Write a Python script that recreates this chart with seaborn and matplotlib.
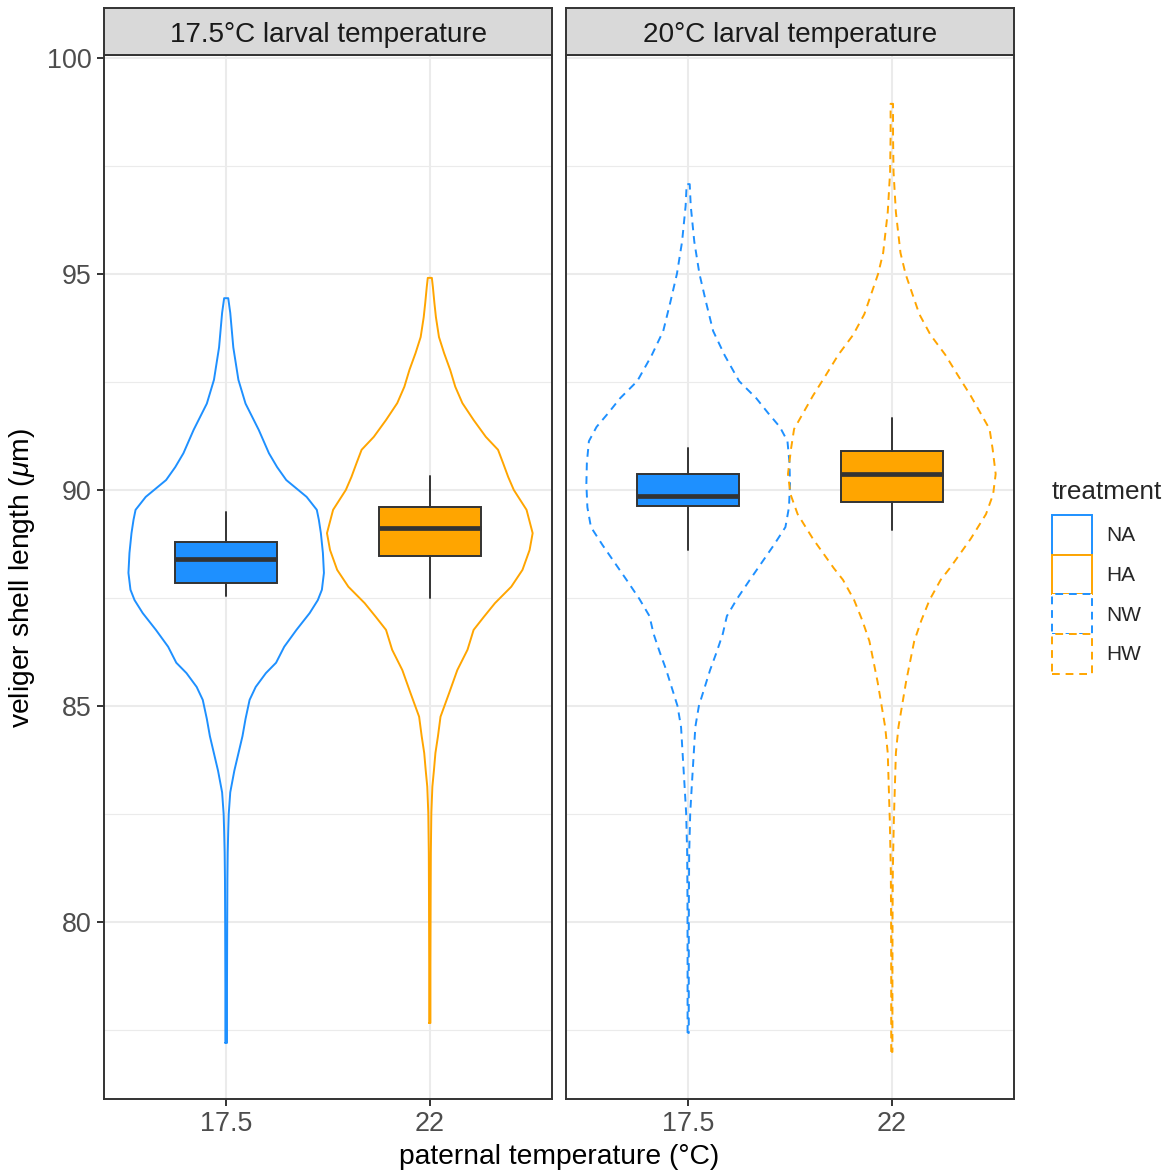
import numpy as np
import pandas as pd
import matplotlib
matplotlib.use("Agg")
import matplotlib.pyplot as plt
from matplotlib.patches import Patch
import seaborn as sns

# ---------------- data ----------------
facet_titles = ["17.5°C larval temperature", "20°C larval temperature"]
paternal_temps = ["17.5", "22"]
treatments = ["NA", "HA", "NW", "HW"]
treat_facet = [0, 0, 1, 1]          # which larval-temperature panel
treat_paternal = [0, 1, 0, 1]       # which paternal temperature

# violin outlines: shell length (µm) and relative density (% of widest)
NA_len = [77.2, 78.5, 80.0, 81.0, 81.6, 82.1, 82.5, 83.0, 83.5, 83.9, 84.3, 84.7, 85.14,
          85.44, 85.76, 86.0, 86.37, 86.76, 87.15, 87.45, 87.69, 88.08, 88.54, 89.0, 89.31,
          89.54, 89.84, 90.23, 90.53, 90.85, 91.39, 92.0, 92.55, 93.3, 94.1, 94.44]
NA_dens = [0.8, 0.8, 1.0, 1.2, 1.5, 2, 2.5, 4, 8, 12, 16, 19, 23,
           29, 39, 49, 57, 69, 82, 90, 94, 96, 95, 93, 91,
           89, 79, 59, 50, 42, 32, 19, 12, 7, 4, 2]

HA_len = [77.66, 79.0, 80.5, 81.6, 82.52, 83.13, 83.5, 83.91, 84.3, 84.75, 85.3, 85.83,
          86.3, 86.76, 87.06, 87.38, 87.76, 88.15, 88.61, 89.0, 89.54, 90.0, 90.3, 90.62,
          90.93, 91.23, 91.62, 92.01, 92.39, 92.78, 93.17, 93.54, 94.0, 94.33, 94.7, 94.91]
HA_dens = [0.6, 0.6, 0.8, 1.0, 1.5, 2.5, 4, 5.5, 8, 10.5, 19, 27,
           37, 43, 53, 64, 80, 91, 98, 101, 95, 82.5, 77, 72,
           67, 55, 43, 32, 25, 20, 14, 9, 6, 4.5, 3, 2]

NW_len = [77.43, 79.0, 80.5, 81.6, 82.52, 83.13, 83.91, 84.51, 85.0, 85.83, 86.25, 86.67,
          87.08, 87.48, 87.9, 88.31, 88.72, 89.14, 89.6, 90.14, 90.63, 91.13, 91.46, 91.78,
          92.12, 92.52, 93.11, 93.68, 94.35, 95.01, 95.75, 96.58, 97.08]
NW_dens = [0.6, 0.6, 0.7, 1.0, 2.0, 3.5, 5.5, 7, 10.5, 21.5, 28, 34,
           38, 48, 60, 72, 84, 95.5, 99, 100, 99.5, 97.5, 90, 78.5,
           67, 50, 36, 24.5, 17.5, 11, 6, 2.5, 1.5]

HW_len = [76.99, 78.5, 80.0, 81.2, 82.36, 83.13, 83.91, 84.51, 85.56, 86.5, 86.98, 87.45,
          87.92, 88.19, 88.87, 89.44, 89.9, 90.37, 90.95, 91.41, 92.18, 92.65, 93.13, 93.59,
          94.07, 95.0, 95.49, 96.43, 97.36, 98.2, 98.94]
HW_dens = [0.6, 0.6, 0.7, 1.0, 2.0, 3, 4, 6.5, 14, 22, 29, 37,
           48, 57, 77.5, 92.5, 99.5, 102, 99, 96, 77.5, 65, 52.5, 38,
           27, 13.5, 8.5, 4, 1.7, 1.2, 1.2]

violin_len = [NA_len, HA_len, NW_len, HW_len]
violin_dens = [NA_dens, HA_dens, NW_dens, HW_dens]

# boxplot statistics (µm)
box_low = [87.55, 87.49, 88.60, 89.07]
box_q1 = [87.85, 88.48, 89.64, 89.72]
box_med = [88.40, 89.13, 89.86, 90.38]
box_q3 = [88.80, 89.60, 90.36, 90.90]
box_high = [89.49, 90.33, 90.97, 91.67]

# ---------------- style ----------------
BLUE = "#1E90FF"
ORANGE = "#FFA500"
treat_color = [BLUE, ORANGE, BLUE, ORANGE]
DASH = (0, (4, 3))
treat_ls = ["-", "-", DASH, DASH]

sns.set_theme(style="white")
plt.rcParams["font.family"] = ["Liberation Sans", "DejaVu Sans"]
plt.rcParams["mathtext.fontset"] = "custom"
plt.rcParams["mathtext.rm"] = "Liberation Sans"
plt.rcParams["mathtext.it"] = "Liberation Sans:italic"

W, H = 1172, 1174
fig = plt.figure(figsize=(W / 100, H / 100), dpi=100)
fig.patch.set_facecolor("white")

panel_x = [104, 566]
panel_w = 448
panel_top, panel_bot = 55, 1099
strip_top = 8

DARK = "#333333"
GRID = "#EBEBEB"
MAXHW = 0.5 / 100.0   # half width (x units) per density percent

axes = []
for f in range(2):
    ax = fig.add_axes([panel_x[f] / W, 1 - panel_bot / H, panel_w / W, (panel_bot - panel_top) / H])
    ax.set_xlim(-0.6, 1.6)
    ax.set_ylim(75.90, 100.07)
    ax.set_facecolor("white")
    ax.set_xticks([0, 1])
    ax.set_xticklabels(paternal_temps)
    ax.set_yticks([80, 85, 90, 95, 100])
    ax.set_yticks([77.5, 82.5, 87.5, 92.5, 97.5], minor=True)
    ax.grid(True, which="major", color=GRID, linewidth=1.5, zorder=0)
    ax.grid(True, which="minor", axis="y", color=GRID, linewidth=0.8, zorder=0)
    ax.set_axisbelow(True)
    for s in ax.spines.values():
        s.set_color(DARK)
        s.set_linewidth(1.4)
        s.set_zorder(5)
    ax.tick_params(axis="both", which="major", direction="out", length=5, width=1.4,
                   color=DARK, labelcolor="#4D4D4D", labelsize=19.4)
    ax.tick_params(axis="x", pad=3.5)
    ax.tick_params(axis="y", pad=4)
    ax.tick_params(which="minor", length=0)
    ax.tick_params(left=(f == 0), labelleft=(f == 0), bottom=True)
    ax.set_xlabel("")
    ax.set_ylabel("")
    axes.append(ax)

    # strip
    sax = fig.add_axes([panel_x[f] / W, 1 - panel_top / H, panel_w / W, (panel_top - strip_top) / H])
    sax.set_facecolor("#D9D9D9")
    sax.set_xticks([])
    sax.set_yticks([])
    for s in sax.spines.values():
        s.set_color(DARK)
        s.set_linewidth(1.4)
    sax.text(0.5, (panel_top - 42.5) / (panel_top - strip_top), facet_titles[f],
             ha="center", va="baseline", fontsize=20.1,
             color="#1A1A1A", transform=sax.transAxes)

# violins
for i, t in enumerate(treatments):
    ax = axes[treat_facet[i]]
    xc = treat_paternal[i]
    ys = np.asarray(violin_len[i])
    hw = np.asarray(violin_dens[i]) * MAXHW
    xs_outline = np.concatenate([xc - hw, (xc + hw)[::-1], [xc - hw[0]]])
    ys_outline = np.concatenate([ys, ys[::-1], [ys[0]]])
    df = pd.DataFrame({"x": xs_outline, "y": ys_outline})
    sns.lineplot(data=df, x="x", y="y", sort=False, estimator=None, ax=ax,
                 color=treat_color[i], linewidth=1.4, linestyle=treat_ls[i], zorder=2)
    ax.set_xlabel("")
    ax.set_ylabel("")

# boxes
for i, t in enumerate(treatments):
    ax = axes[treat_facet[i]]
    stats = [dict(med=box_med[i], q1=box_q1[i], q3=box_q3[i],
                  whislo=box_low[i], whishi=box_high[i], fliers=[])]
    ax.bxp(stats, positions=[treat_paternal[i]], widths=0.5, patch_artist=True,
           showcaps=False, showfliers=False, manage_ticks=False,
           boxprops=dict(facecolor=treat_color[i], edgecolor=DARK, linewidth=1.4),
           medianprops=dict(color=DARK, linewidth=3.4, solid_capstyle="butt"),
           whiskerprops=dict(color=DARK, linewidth=1.4), zorder=3)

for ax in axes:
    ax.set_xlim(-0.6, 1.6)
    ax.set_ylim(75.90, 100.07)

# axis titles
fig.text(559 / W, 1 - 1157 / H, "paternal temperature (°C)", ha="center", va="center",
         fontsize=20.3, color="black")
fig.text(22 / W, 1 - 578 / H, r"veliger shell length ($\mu$m)", ha="center", va="center",
         rotation=90, fontsize=20.3, color="black")

# legend
handles = [Patch(facecolor="white", edgecolor=treat_color[i], linestyle=treat_ls[i],
                 linewidth=1.4) for i in range(4)]
leg = fig.legend(handles, treatments, title="treatment", loc="upper left",
                 bbox_to_anchor=(1052 / W, 1 - 480 / H), frameon=False,
                 fontsize=15, title_fontsize=18.8, handlelength=1.9, handleheight=2.55,
                 labelspacing=0.0, handletextpad=0.7, borderpad=0, borderaxespad=0,
                 alignment="left")
leg._legend_box.sep = 8

fig.savefig("out.png", dpi=100, facecolor="white")
